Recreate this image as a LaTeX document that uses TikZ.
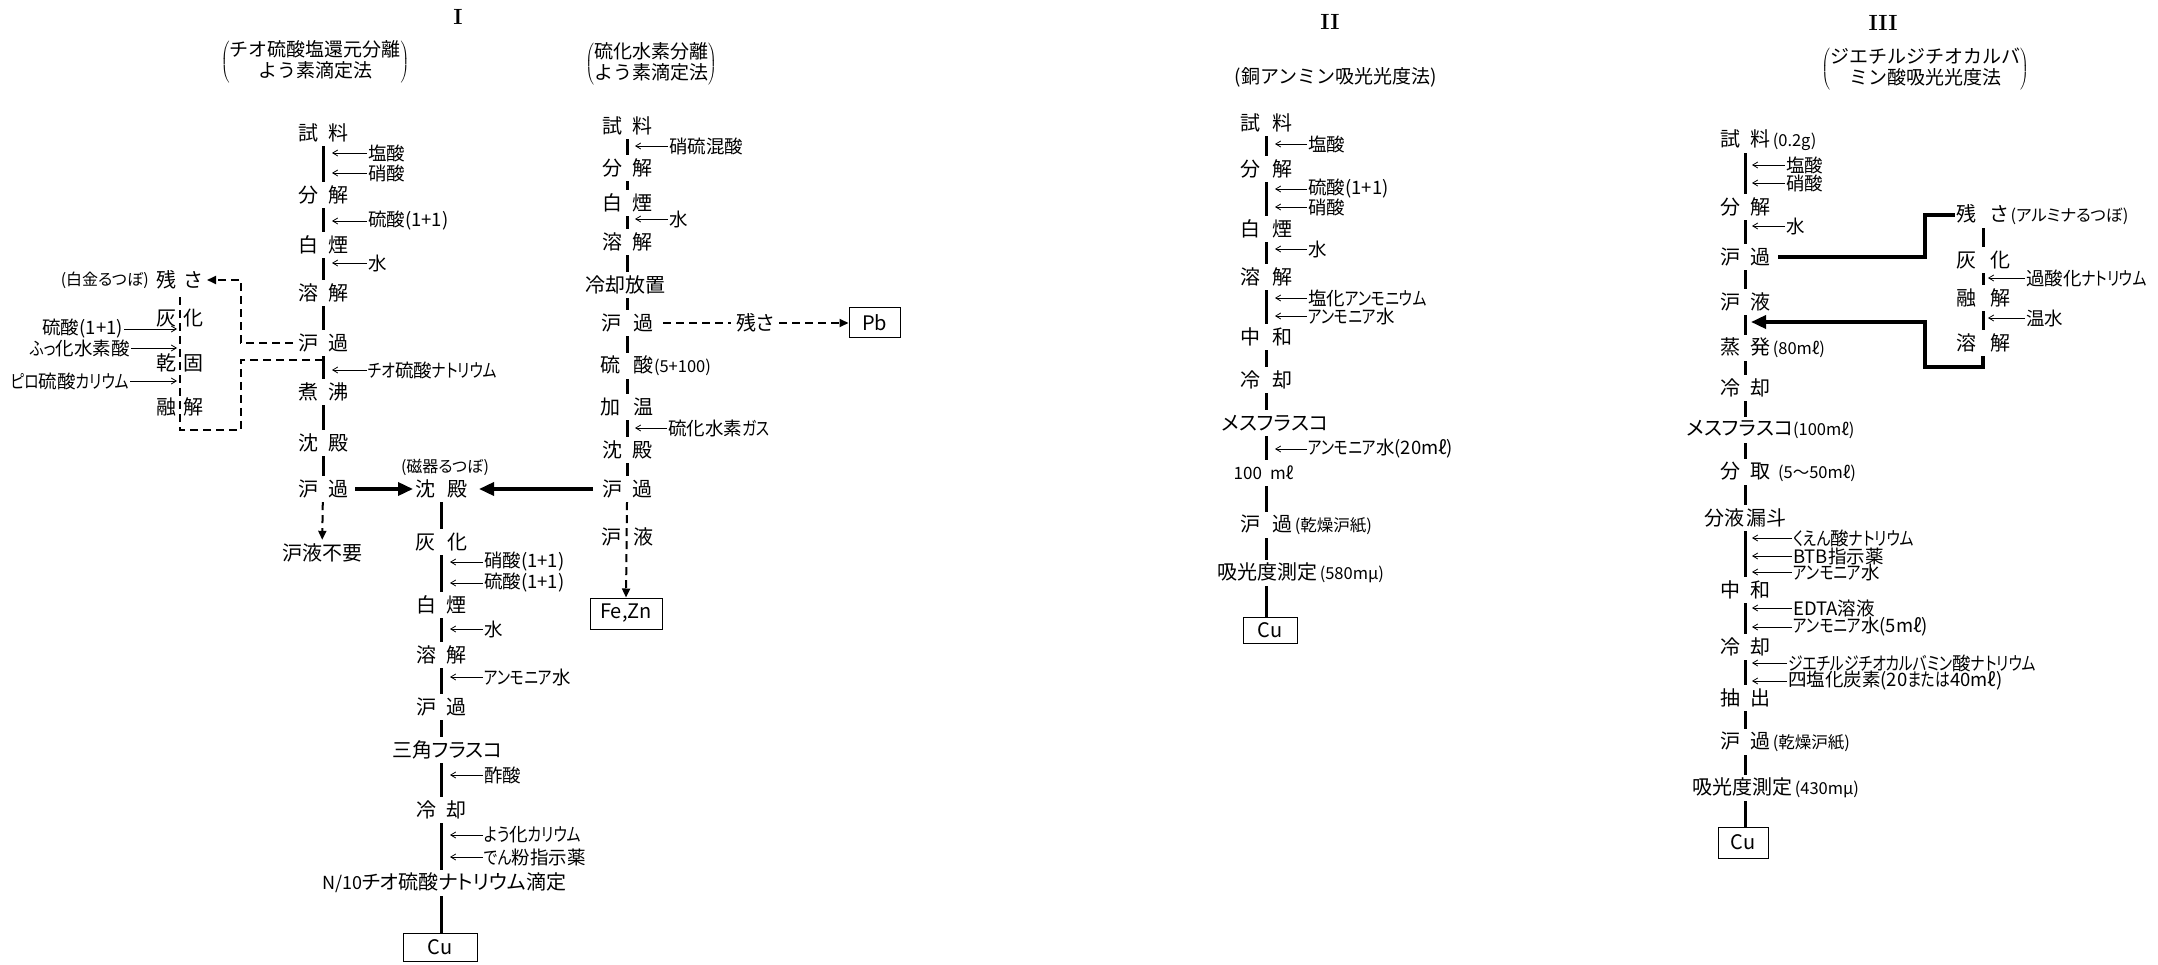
\documentclass[tikz,border=0pt]{standalone}
\usepackage{fontspec}
\usepackage{graphicx}
\usetikzlibrary{arrows.meta}
\newfontfamily\jp{Noto Sans CJK JP}[RawFeature=+palt]
\newfontfamily\jpk{Noto Sans CJK JP}[RawFeature=+palt, FakeStretch=0.8]
\newfontfamily\jpt{Noto Sans CJK JP}
\newcommand\kn[1]{{\jpk #1}}
\newcommand\fM{\fontsize{20pt}{22pt}\selectfont}
\newcommand\fR{\fontsize{18.5pt}{20pt}\selectfont}
\newcommand\fS{\fontsize{16.5pt}{18pt}\selectfont}
\newcommand\fN{\fontsize{16pt}{18pt}\selectfont}
\newcommand\fT{\fontsize{19pt}{19pt}\selectfont}
\newcommand\two[3][5pt]{\llap{#2\hspace{#1}}\rlap{\hspace{#1}#3}}
\newcommand\off[2]{\rlap{\hspace{#1}#2}}
\begin{document}
\begin{tikzpicture}[x=1pt,y=-1pt,
  lab/.style={inner sep=0pt, minimum height=26pt, font=\jp\fM},
  rg/.style={inner sep=1pt, anchor=west, font=\jp\fR},
  rgl/.style={inner sep=1pt, anchor=east, font=\jp\fR},
  txt/.style={inner sep=1pt, font=\jp\fN},
  mainln/.style={line width=3pt},
  ra/.style={line width=0.8pt, -{Straight Barb[length=5pt,width=6pt]}},
  thk/.style={line width=3.5pt, -{Triangle[length=15pt,width=13pt]}},
  thkln/.style={line width=3.5pt},
  dsh/.style={line width=2pt, dash pattern=on 8pt off 5pt},
  dtip/.style={-{Triangle[length=9pt,width=8pt]}},
  bx/.style={draw, line width=1pt, inner sep=0pt, font=\jp\fM},
  ttl/.style={font=\jpt\fT, inner sep=0pt},
  num/.style={font=\bfseries\fontsize{22pt}{22pt}\selectfont, inner sep=0pt}]
\useasboundingbox (0,0) rectangle (2158,965);

% ---------- headings ----------
\node[num] (N1) at (458,17) {I};
\node[num] (N2) at (1330,22) {II};
\node[num] (N3) at (1883,23) {III};
\node[ttl] (T1) at (315,62) {$\left(\vcenter{\hbox{\jpt\fT\begin{tabular}{@{}c@{}}チオ硫酸塩還元分離\\よう素滴定法\end{tabular}}}\right)$};
\node[ttl] (T2) at (651,64) {$\left(\vcenter{\hbox{\jpt\fT\begin{tabular}{@{}c@{}}硫化水素分離\\よう素滴定法\end{tabular}}}\right)$};
\node[ttl] (T3) at (1336,77) {(銅アンミン吸光光度法)};
\node[ttl] (T4) at (1925,69) {$\left(\vcenter{\hbox{\jpt\fT\begin{tabular}{@{}c@{}}ジエチルジチオカルバ\\ミン酸吸光光度法\end{tabular}}}\right)$};

% ---------- Section I, column 1 ----------
\node[lab] (A1) at (323,133) {\two{試}{料}};
\node[lab] (A2) at (323,195) {\two{分}{解}};
\node[lab] (A3) at (323,245) {\two{白}{煙}};
\node[lab] (A4) at (323,293) {\two{溶}{解}};
\node[lab] (A5) at (323,343) {\two{沪}{過}};
\node[lab] (A6) at (323,392) {\two{煮}{沸}};
\node[lab] (A7) at (323,443) {\two{沈}{殿}};
\node[lab] (A8) at (323,489) {\two{沪}{過}};
\node[lab] (A9) at (322,553) {沪液不要};
\foreach \a/\b in {A1/A2,A2/A3,A3/A4,A4/A5,A5/A6,A6/A7,A7/A8}
  \draw[mainln] (\a) -- (\b);
\draw[dsh,dtip] (A8) -- (A9);

\coordinate (tA) at (332,0);
\node[rg] (ra1) at (367,153) {塩酸};
\node[rg] (ra2) at (367,173) {硝酸};
\node[rg] (ra3) at (367,221) {硫酸(1+1)};
\node[rg] (ra4) at (367,263) {水};
\node[rg] (ra5) at (367,370) {\kn{チオ}硫酸\kn{ナトリウム}};
\foreach \r in {ra1,ra2,ra3,ra4,ra5}
  \draw[ra] (\r.west) -- (\r.west -| tA);

% residue branch (left)
\node[lab] (B1) at (180,280) {\two[4pt]{残}{さ}};
\node[txt, anchor=east] (m0) at (150,280) {(白金るつぼ)};
\node[lab] (B2) at (180,318) {\two[4pt]{灰}{化}};
\node[lab] (B3) at (180,363) {\two[4pt]{乾}{固}};
\node[lab] (B4) at (180,407) {\two[4pt]{融}{解}};
\coordinate (tL) at (177,0);
\node[rgl] (rl1) at (124,329) {硫酸(1+1)};
\node[rgl] (rl2) at (131,348) {\kn{ふっ}化水素酸};
\node[rgl] (rl3) at (130,381) {\kn{ピロ}硫酸\kn{カリウム}};
\foreach \r in {rl1,rl2,rl3}
  \draw[ra] (\r.east) -- (\r.east -| tL);
\coordinate (j1) at (323,360);
\coordinate (k1) at (241,430);
\coordinate (k2) at (241,310);
\draw[dsh] (j1) -| (k1) -| (B1.south);
\draw[dsh,dtip] ([xshift=-30pt]A5.center) -| (k2) |- ([xshift=27pt]B1.center);

% ---------- Section I, column 1b ----------
\node[txt] (m1) at (445,467) {(磁器るつぼ)};
\node[lab] (C1) at (441,489) {\two[6pt]{沈}{殿}};
\node[lab] (C2) at (441,542) {\two[6pt]{灰}{化}};
\node[lab] (C3) at (441,605) {\two{白}{煙}};
\node[lab] (C4) at (441,655) {\two{溶}{解}};
\node[lab] (C5) at (441,707) {\two{沪}{過}};
\node[lab] (C6) at (441,750) {\off{-49pt}{三角フラスコ}};
\node[lab] (C7) at (441,810) {\two{冷}{却}};
\node[lab] (C8) at (441,883) {\off{-119pt}{{\fontsize{18pt}{20pt}\selectfont N/10}チオ硫酸ナトリウム滴定}};
\node[bx, minimum width=74pt, minimum height=28pt] (Cu1) at (440,947) {Cu};
\foreach \a/\b in {C1/C2,C2/C3,C3/C4,C4/C5,C5/C6,C6/C7,C7/C8}
  \draw[mainln] (\a) -- (\b);
\draw[mainln] (C8.south) -- (C8.south |- Cu1.north);
\draw[thk] ([xshift=32pt]A8.center) -- ([xshift=-28pt]C1.center);

\coordinate (tB) at (450,0);
\node[rg] (rb1) at (483,562) {硝酸(1+1)};
\node[rg] (rb2) at (483,583) {硫酸(1+1)};
\node[rg] (rb3) at (483,629) {水};
\node[rg] (rb4) at (483,677) {\kn{アンモニア}水};
\node[rg] (rb5) at (483,775) {酢酸};
\node[rg] (rb6) at (483,835) {\kn{よう}化\kn{カリウム}};
\node[rg] (rb7) at (483,857) {\kn{でん}粉指示薬};
\foreach \r in {rb1,rb2,rb3,rb4,rb5,rb6,rb7}
  \draw[ra] (\r.west) -- (\r.west -| tB);

% ---------- Section I, column 2 ----------
\node[lab] (D1) at (627,126) {\two{試}{料}};
\node[lab] (D2) at (627,168) {\two{分}{解}};
\node[lab] (D3) at (627,203) {\two{白}{煙}};
\node[lab] (D4) at (627,242) {\two{溶}{解}};
\node[lab] (D5) at (627,285) {\off{-42pt}{冷却放置}};
\node[lab] (D6) at (627,323) {\two[6pt]{沪}{過}};
\node[lab] (D7) at (627,366) {\two[7pt]{硫}{酸{\fS(5+100)}}};
\node[lab] (D8) at (627,407) {\two[7pt]{加}{温}};
\node[lab] (D9) at (627,450) {\two{沈}{殿}};
\node[lab] (D10) at (627,489) {\two[5pt]{沪}{過}};
\node[lab] (D11) at (627,537) {\two[6pt]{沪}{液}};
\node[bx, minimum width=72pt, minimum height=31pt] (FZ) at (626,613.5) {Fe,Zn};
\node[lab, inner sep=5pt] (res) at (755,323) {残さ};
\node[bx, minimum width=51pt, minimum height=30pt] (Pb) at (874.5,323) {Pb};
\foreach \a/\b in {D1/D2,D2/D3,D3/D4,D4/D5,D5/D6,D6/D7,D7/D8,D8/D9,D9/D10}
  \draw[mainln] (\a) -- (\b);
\draw[dsh,dtip] (D10.south) -- (FZ.north);
\draw[dsh] ([xshift=36pt]D6.center) -- (res.west);
\draw[dsh,dtip] (res.east) -- (Pb.west);
\draw[thk] ([xshift=-34pt]D10.center) -- ([xshift=38pt]C1.center);

\coordinate (tC) at (635,0);
\node[rg] (rc1) at (668,146) {硝硫混酸};
\node[rg] (rc2) at (668,219) {水};
\node[rg] (rc3) at (667,428) {硫化水素\kn{ガス}};
\foreach \r in {rc1,rc2,rc3}
  \draw[ra] (\r.west) -- (\r.west -| tC);

% ---------- Section II ----------
\node[lab] (E1) at (1266,123) {\two[6pt]{試}{料}};
\node[lab] (E2) at (1266,169) {\two[6pt]{分}{解}};
\node[lab] (E3) at (1266,229) {\two[6pt]{白}{煙}};
\node[lab] (E4) at (1266,277) {\two[6pt]{溶}{解}};
\node[lab] (E5) at (1266,337) {\two[6pt]{中}{和}};
\node[lab] (E6) at (1266,380) {\two[6pt]{冷}{却}};
\node[lab] (E7) at (1266,423) {\off{-44pt}{メスフラスコ}};
\node[lab, font=\jp\fontsize{17pt}{19pt}\selectfont] (E8) at (1266,473) {\two[4pt]{100}{mℓ}};
\node[lab] (E9) at (1266,525) {\two[6pt]{沪}{過{\fS\,(乾燥沪紙)}}};
\node[lab] (E10) at (1266,573) {\off{-49pt}{吸光度測定{\fS\,(580mμ)}}};
\node[bx, minimum width=54pt, minimum height=26pt] (Cu2) at (1270,630) {Cu};
\foreach \a/\b in {E1/E2,E2/E3,E3/E4,E4/E5,E5/E6,E6/E7,E7/E8,E8/E9,E9/E10}
  \draw[mainln] (\a) -- (\b);
\draw[mainln] (E10.south) -- (E10.south |- Cu2.north);

\coordinate (tE) at (1275,0);
\node[rg] (re1) at (1307,144) {塩酸};
\node[rg] (re2) at (1307,189) {硫酸(1+1)};
\node[rg] (re3) at (1307,207) {硝酸};
\node[rg] (re4) at (1307,249) {水};
\node[rg] (re5) at (1307,298) {塩化\kn{アンモニウム}};
\node[rg] (re6) at (1307,316) {\kn{アンモニア}水};
\node[rg] (re7) at (1307,449) {\kn{アンモニア}水(20mℓ)};
\foreach \r in {re1,re2,re3,re4,re5,re6,re7}
  \draw[ra] (\r.west) -- (\r.west -| tE);

% ---------- Section III ----------
\node[lab] (F1) at (1745,140) {\two{試}{料{\fS\,(0.2g)}}};
\node[lab] (F2) at (1745,207) {\two{分}{解}};
\node[lab] (F3) at (1745,257) {\two{沪}{過}};
\node[lab] (F4) at (1745,302) {\two{沪}{液}};
\node[lab] (F5) at (1745,348) {\two{蒸}{発{\fS\,(80mℓ)}}};
\node[lab] (F6) at (1745,388) {\two{冷}{却}};
\node[lab] (F7) at (1745,430) {\off{-58pt}{メスフラスコ{\fS(100mℓ)}}};
\node[lab] (F8) at (1745,472) {\two{分}{取{\fS\hspace{8pt}(5～50mℓ)}}};
\node[lab] (F9) at (1745,518) {\two[1pt]{分液}{漏斗}};
\node[lab] (F10) at (1745,590) {\two{中}{和}};
\node[lab] (F11) at (1745,647) {\two{冷}{却}};
\node[lab] (F12) at (1745,698) {\two{抽}{出}};
\node[lab] (F13) at (1745,742) {\two{沪}{過{\fS\,(乾燥沪紙)}}};
\node[lab] (F14) at (1745,788) {\off{-53pt}{吸光度測定{\fS\,(430mμ)}}};
\node[bx, minimum width=50pt, minimum height=31pt] (Cu3) at (1743,842.5) {Cu};
\foreach \a/\b in {F1/F2,F2/F3,F3/F4,F4/F5,F5/F6,F6/F7,F7/F8,F8/F9,F9/F10,F10/F11,F11/F12,F12/F13,F13/F14}
  \draw[mainln] (\a) -- (\b);
\draw[mainln] (F14.south) -- (F14.south |- Cu3.north);

\coordinate (tF) at (1752,0);
\node[rg] (rf1) at (1785,165) {塩酸};
\node[rg] (rf2) at (1785,183) {硝酸};
\node[rg] (rf3) at (1785,226) {水};
\node[rg] (rf4) at (1792,538) {\kn{くえん}酸\kn{ナトリウム}};
\node[rg] (rf5) at (1792,556) {BTB指示薬};
\node[rg] (rf6) at (1792,572) {\kn{アンモニア}水};
\node[rg] (rf7) at (1792,608) {EDTA溶液};
\node[rg] (rf8) at (1792,627) {\kn{アンモニア}水(5mℓ)};
\node[rg] (rf9) at (1787,663) {\kn{ジエチルジチオカルバミン}酸\kn{ナトリウム}};
\node[rg] (rf10) at (1787,681) {四塩化炭素(20\kn{または}40mℓ)};
\foreach \r in {rf1,rf2,rf3,rf4,rf5,rf6,rf7,rf8,rf9,rf10}
  \draw[ra] (\r.west) -- (\r.west -| tF);

% residue branch (right)
\node[lab] (G1) at (1983,215) {\two[7pt]{残}{さ{\fS\,(アルミナるつぼ)}}};
\node[lab] (G2) at (1983,260) {\two[7pt]{灰}{化}};
\node[lab] (G3) at (1983,298) {\two[7pt]{融}{解}};
\node[lab] (G4) at (1983,343) {\two[7pt]{溶}{解}};
\foreach \a/\b in {G1/G2,G2/G3,G3/G4}
  \draw[mainln] (\a) -- (\b);
\coordinate (tG) at (1988,0);
\node[rg] (rg1) at (2025,278) {過酸化\kn{ナトリウム}};
\node[rg] (rg2) at (2025,318) {温水};
\foreach \r in {rg1,rg2}
  \draw[ra] (\r.west) -- (\r.west -| tG);
\coordinate (h1) at (1925,236);
\coordinate (h2) at (1925,367);
\coordinate (h3) at (1751,322);
\draw[thkln] ([xshift=33pt]F3.center) -| (h1) |- ([xshift=-28pt]G1.center);
\draw[thk] (G4.south) |- (h2) |- (h3);
\end{tikzpicture}
\end{document}
